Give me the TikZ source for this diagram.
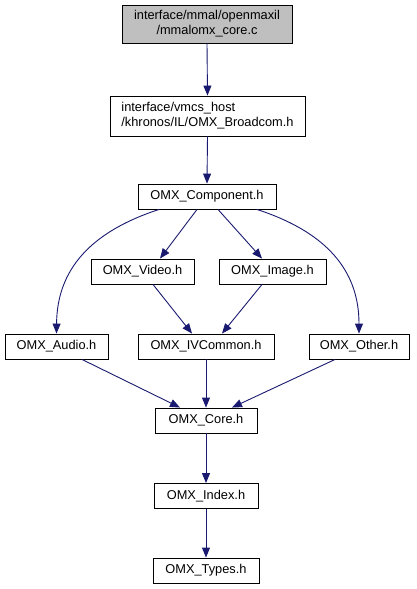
\documentclass[tikz,border=0pt]{standalone}
\usepackage{fontspec}
\setmainfont{Liberation Sans}
\usetikzlibrary{arrows.meta}
\definecolor{edgec}{HTML}{191970}
\definecolor{topfill}{HTML}{BFBFBF}
\begin{document}
\begin{tikzpicture}[x=1pt,y=-1pt,
 box/.style={draw=black,line width=0.9pt,minimum height=25pt,inner sep=0pt,font=\fontsize{12.8}{15}\selectfont},
 edge/.style={draw=edgec,line width=0.9pt,-{Triangle[length=10pt,width=8pt]}}]
\useasboundingbox (0,0) rectangle (417,589);
\node[box,fill=topfill,minimum width=170pt,minimum height=38pt,align=center] (top) at (207,24) {interface/mmal/openmaxil\\/mmalomx\_core.c};
\node[box,minimum width=195pt,minimum height=40pt,align=left] (bc) at (207.5,116) {interface/vmcs\_host\\/khronos/IL/OMX\_Broadcom.h};
\node[box,minimum width=138pt] (comp) at (207,196.5) {OMX\_Component.h};
\node[box,minimum width=103pt] (video) at (142.5,271.5) {OMX\_Video.h};
\node[box,minimum width=107pt] (image) at (272.5,271.5) {OMX\_Image.h};
\node[box,minimum width=103pt] (audio) at (56.5,346.5) {OMX\_Audio.h};
\node[box,minimum width=136pt] (ivc) at (206,346.5) {OMX\_IVCommon.h};
\node[box,minimum width=100pt] (other) at (359,346.5) {OMX\_Other.h};
\node[box,minimum width=102pt] (core) at (206,420.5) {OMX\_Core.h};
\node[box,minimum width=104pt] (index) at (206,496) {OMX\_Index.h};
\node[box,minimum width=106pt] (types) at (206,570.5) {OMX\_Types.h};

\draw[edge] (top.south) -- (bc.north);
\draw[edge] (bc.south) -- (comp.north);
\draw[edge] ([xshift=-10pt]comp.south) -- ([xshift=17.5pt]video.north);
\draw[edge] ([xshift=11pt]comp.south) -- ([xshift=-10.5pt]image.north);
\draw[edge] ([xshift=-48pt]comp.south) .. controls (90,232) and (57,270) .. (audio.north);
\draw[edge] ([xshift=50pt]comp.south) .. controls (326,232) and (359,270) .. (other.north);
\draw[edge] ([xshift=10.5pt]video.south) -- ([xshift=-14pt]ivc.north);
\draw[edge] ([xshift=-10.5pt]image.south) -- ([xshift=16pt]ivc.north);
\draw[edge] ([xshift=25.5pt]audio.south) -- ([xshift=-26pt]core.north);
\draw[edge] (ivc.south) -- (core.north);
\draw[edge] ([xshift=-24pt]other.south) -- ([xshift=26pt]core.north);
\draw[edge] (core.south) -- (index.north);
\draw[edge] (index.south) -- (types.north);
\end{tikzpicture}
\end{document}
